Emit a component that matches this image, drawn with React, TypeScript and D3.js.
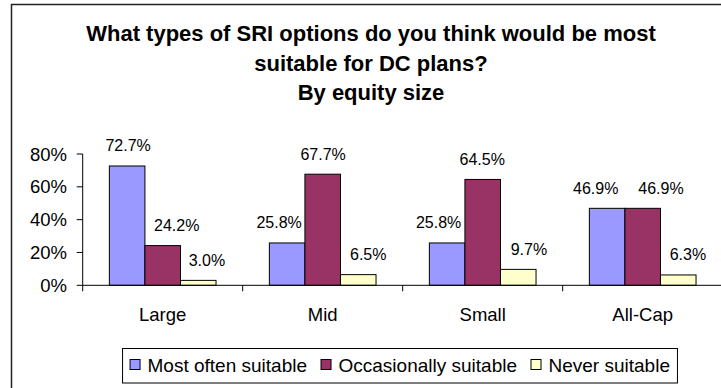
import React from 'react';
import * as d3 from 'd3';

const categories = ['Large', 'Mid', 'Small', 'All-Cap'];
const seriesNames = ['Most often suitable', 'Occasionally suitable', 'Never suitable'];
const mostOften = [72.7, 25.8, 25.8, 46.9];
const occasionally = [24.2, 67.7, 64.5, 46.9];
const never = [3.0, 6.5, 9.7, 6.3];
const yTicks = [0, 20, 40, 60, 80];
const titleLines = [
  'What types of SRI options do you think would be most',
  'suitable for DC plans?',
  'By equity size',
];

const seriesValues = [mostOften, occasionally, never];
const colors = ['#9999FF', '#993366', '#FFFFCC'];
// label horizontal nudges (px) per series, per category (as Excel placed them)
const labelDx = [
  [1, -8, -8.5, -11.4],
  [14, 0.4, -0.5, 18.3],
  [8.7, 10, 10.7, 9.7],
];

const FONT = "'Liberation Sans', Arial, sans-serif";

function measure(text: string, font: string): number {
  const c = document.createElement('canvas');
  const ctx = c.getContext('2d');
  if (!ctx) return text.length * 9;
  ctx.font = font;
  return ctx.measureText(text).width;
}

export default function App() {
  const W = 721;
  const H = 388;
  const plotLeft = 82.7;
  const plotRight = 722.7;
  const yBase = 285.3;
  const yTop = 154;

  const x = d3.scaleBand<string>().domain(categories).range([plotLeft, plotRight]).paddingInner(0).paddingOuter(0);
  const x1 = d3
    .scaleBand<number>()
    .domain([0, 1, 2])
    .range([0, x.bandwidth()])
    .paddingInner(0)
    .paddingOuter(0.75);
  const y = d3.scaleLinear().domain([0, 80]).range([yBase, yTop]);

  // legend layout
  const legendFontSize = 19;
  const legendFont = `${legendFontSize}px ${FONT}`;
  const widths = seriesNames.map((s) => measure(s, legendFont));
  const markerSize = 10;
  const padL = 7.5;
  const padR = 7.5;
  const textGap = 7.5;
  const itemGap = 14;
  const legendW =
    padL + widths.reduce((a, b) => a + b, 0) + seriesNames.length * (markerSize + textGap) + itemGap * (seriesNames.length - 1) + padR;
  const legendCx = 400;
  const legendX = legendCx - legendW / 2;
  const legendY = 348.5;
  const legendH = 34.5;
  const items: { mx: number; tx: number }[] = [];
  let cur = legendX + padL;
  widths.forEach((w) => {
    items.push({ mx: cur, tx: cur + markerSize + textGap });
    cur += markerSize + textGap + w + itemGap;
  });

  const boundaries = [...categories.map((c) => x(c) as number), plotRight];

  return (
    <svg
      width={W}
      height={H}
      style={{ position: 'absolute', left: 0, top: 0, background: '#fff' }}
      fontFamily={FONT}
    >
      <rect x={0} y={0} width={W} height={H} fill="#fff" />
      {/* outer chart border */}
      <rect x={11.5} y={4.5} width={740} height={400} fill="none" stroke="#222" strokeWidth={1.5} />

      {/* title */}
      {titleLines.map((t, i) => (
        <text
          key={t}
          x={371}
          y={41 + i * 29.5}
          textAnchor="middle"
          fontSize={22}
          fontWeight="bold"
          fill="#000"
        >
          {t}
        </text>
      ))}

      {/* y axis */}
      <line x1={plotLeft} x2={plotLeft} y1={yTop} y2={yBase} stroke="#000" strokeWidth={1} />
      {yTicks.map((t) => (
        <g key={t}>
          <line x1={plotLeft - 6} x2={plotLeft} y1={y(t)} y2={y(t)} stroke="#000" strokeWidth={1} />
          <text x={67} y={y(t) + 6.5} textAnchor="end" fontSize={18.5} fill="#000">
            {`${t}%`}
          </text>
        </g>
      ))}

      {/* bars */}
      {categories.map((c, ci) => (
        <g key={c}>
          {seriesValues.map((vals, si) => {
            const bx = (x(c) as number) + (x1(si) as number);
            const bw = x1.bandwidth();
            const by = y(vals[ci]);
            return (
              <g key={si}>
                <rect x={bx} y={by} width={bw} height={yBase - by} fill={colors[si]} stroke="#000" strokeWidth={1} />
                <text
                  x={bx + bw / 2 + labelDx[si][ci]}
                  y={by - 14.5}
                  textAnchor="middle"
                  fontSize={16}
                  fill="#000"
                >
                  {`${vals[ci].toFixed(1)}%`}
                </text>
              </g>
            );
          })}
        </g>
      ))}

      {/* x axis */}
      <line x1={plotLeft} x2={plotRight} y1={yBase} y2={yBase} stroke="#000" strokeWidth={1} />
      {boundaries.map((b, i) => (
        <line key={i} x1={b} x2={b} y1={yBase} y2={yBase + 6} stroke="#000" strokeWidth={1} />
      ))}
      {categories.map((c) => (
        <text key={c} x={(x(c) as number) + x.bandwidth() / 2} y={320.7} textAnchor="middle" fontSize={18.5} fill="#000">
          {c}
        </text>
      ))}

      {/* legend */}
      <rect x={legendX} y={legendY} width={legendW} height={legendH} fill="#fff" stroke="#000" strokeWidth={1} />
      {seriesNames.map((s, i) => (
        <g key={s}>
          <rect
            x={items[i].mx}
            y={359.5}
            width={markerSize}
            height={markerSize}
            fill={colors[i]}
            stroke="#000"
            strokeWidth={1}
          />
          <text x={items[i].tx} y={371.5} fontSize={legendFontSize} fill="#000">
            {s}
          </text>
        </g>
      ))}
    </svg>
  );
}
